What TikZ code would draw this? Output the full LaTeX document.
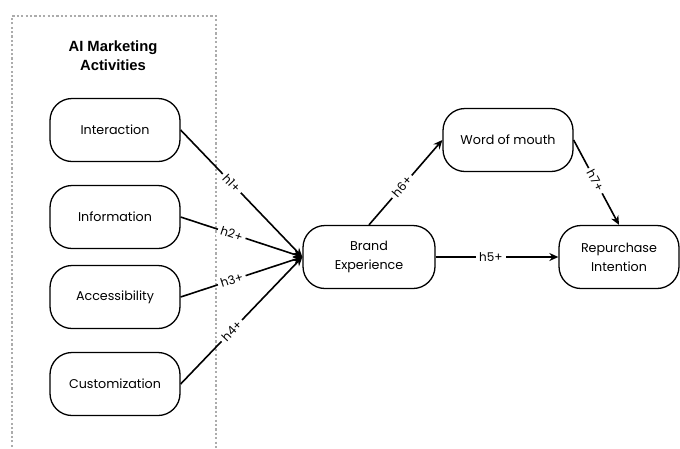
\documentclass[tikz,border=0pt]{standalone}
\usepackage{fontspec}
\setmainfont{Poppins}
\newfontfamily\titlefont{Liberation Sans}
\usetikzlibrary{arrows.meta}
\begin{document}
\begin{tikzpicture}[x=1pt,y=-1pt,
  box/.style={draw=black, line width=1.3pt, rounded corners=22pt, minimum width=130pt, minimum height=63pt, align=center, font=\fontsize{12.7}{19}\selectfont, inner sep=2pt},
  conn/.style={draw=black, line width=1.6pt, -{Stealth[length=9pt,width=8pt]}},
  lab/.style={fill=white, inner sep=3pt, font=\fontsize{12}{13}\selectfont, sloped},
]
\useasboundingbox (0,0) rectangle (680,448);
\fill[white] (0,0) rectangle (680,448);
\draw[gray!65, line width=2.2pt, dash pattern=on 2.2pt off 2.2pt] (12,460) -- (12,16) -- (216,16) -- (216,460);
\node[font=\titlefont\bfseries\fontsize{14.8}{19}\selectfont, align=center] (title) at (113,56) {AI Marketing\\Activities};
\node[box] (inter) at (115,130) {Interaction};
\node[box] (info) at (115,217) {Information};
\node[box] (acc) at (115,297) {Accessibility};
\node[box] (cust) at (115,384) {Customization};
\node[box, minimum width=132pt] (brand) at (369,257) {Brand\\Experience};
\node[box] (wom) at (508,140) {Word of mouth};
\node[box, minimum width=120pt] (rep) at (619,257) {Repurchase\\Intention};
\draw[conn] (inter.east) -- node[lab, pos=0.42] {h1+} (brand.west);
\draw[conn] (info.east) -- node[lab, pos=0.42] {h2+} (brand.west);
\draw[conn] (acc.east) -- node[lab, pos=0.42] {h3+} (brand.west);
\draw[conn] (cust.east) -- node[lab, pos=0.42] {h4+} (brand.west);
\draw[conn] (brand.north) -- node[lab, pos=0.45] {h6+} (wom.west);
\draw[conn] (wom.east) -- node[lab, pos=0.48] {h7+} (rep.north);
\draw[conn] (brand.east) -- node[lab, pos=0.45] {h5+} (rep.west);
\end{tikzpicture}
\end{document}
